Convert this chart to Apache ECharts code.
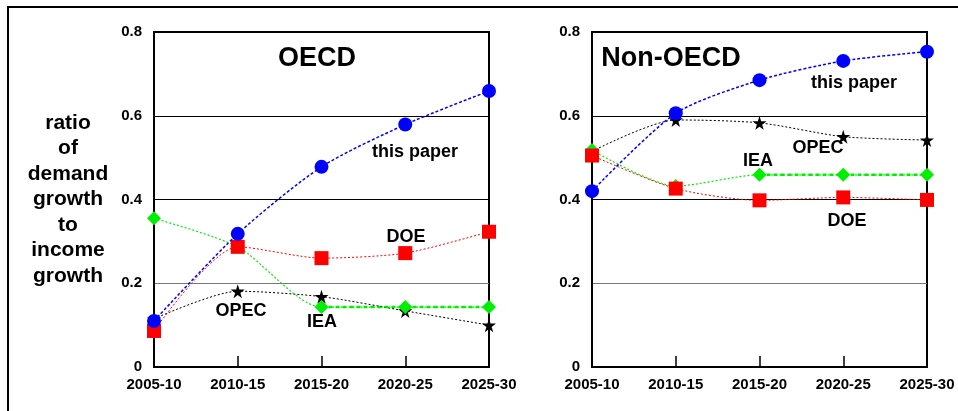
<!DOCTYPE html>
<html>
<head>
<meta charset="utf-8">
<script src="https://cdn.jsdelivr.net/npm/echarts@6/dist/echarts.min.js"></script>
<style>
  html, body { margin: 0; padding: 0; background: #fff; }
  #chart { width: 958px; height: 411px; }
</style>
</head>
<body>
<div id="chart"></div>
<script>
// Periods on the horizontal axis
const periods = ['2005-10', '2010-15', '2015-20', '2020-25', '2025-30'];
const yTicks = [0, 0.2, 0.4, 0.6, 0.8];

// OECD: ratio of demand growth to income growth
const oecdThisPaper = [0.11, 0.318, 0.478, 0.579, 0.659];
const oecdDOE       = [0.086, 0.287, 0.26, 0.272, 0.323];
const oecdIEA       = [0.355, 0.287, 0.143, 0.143, 0.143];
const oecdOPEC      = [0.115, 0.181, 0.168, 0.134, 0.1];

// Non-OECD
const nonThisPaper = [0.42, 0.606, 0.685, 0.731, 0.753];
const nonDOE       = [0.505, 0.426, 0.398, 0.405, 0.399];
const nonIEA       = [0.518, 0.432, 0.459, 0.459, 0.459];
const nonOPEC      = [0.515, 0.59, 0.583, 0.55, 0.542];

const FONT = 'Liberation Sans, Arial, sans-serif';
const STAR = 'path://M50,0 L61,35 L98,35 L68,57 L79,91 L50,70 L21,91 L32,57 L2,35 L39,35 Z';
const chart = echarts.init(document.getElementById('chart'));

function xAxis(idx) {
  return {
    gridIndex: idx, type: 'category', data: periods, boundaryGap: false,
    axisLine: { lineStyle: { color: '#000', width: 2 } },
    axisTick: { show: true, inside: true, length: 11, lineStyle: { color: '#000', width: 1.5 } },
    axisLabel: { color: '#000', fontFamily: FONT, fontWeight: 'bold', fontSize: 15, margin: 10 },
    splitLine: { show: false }
  };
}
function yAxis(idx) {
  return {
    gridIndex: idx, type: 'value', min: yTicks[0], max: yTicks[yTicks.length - 1], interval: 0.2,
    axisLine: { show: true, lineStyle: { color: '#000', width: 2 } },
    axisTick: { show: false },
    axisLabel: { color: '#000', fontFamily: FONT, fontWeight: 'bold', fontSize: 15, margin: 12,
      formatter: v => (v === 0 ? '0' : v.toFixed(1)) },
    splitLine: { show: true, lineStyle: { color: ['#000', '#777', '#000', '#000', '#000'], width: 1 } }
  };
}
function line(idx, data, color, symbol, size, width, type, z) {
  return {
    type: 'line', xAxisIndex: idx, yAxisIndex: idx, data: data,
    smooth: 0.25, symbol: symbol, symbolSize: size,
    itemStyle: { color: color },
    lineStyle: { color: color, width: width, type: type },
    z: z
  };
}
// thicker dashed overlay for the flat IEA stretch
function flat(idx, data, color) {
  const d = data.map((v, i) => (i >= 2 ? v : null));
  return {
    type: 'line', xAxisIndex: idx, yAxisIndex: idx, data: d, symbol: 'none',
    lineStyle: { color: color, width: 2.5, type: [4, 3] }, z: 3
  };
}

function panelSeries(idx, tp, doe, iea, opec) {
  return [
    line(idx, opec, '#000', STAR, 14, 1, [2, 2], 4),
    line(idx, iea, '#00ee00', 'diamond', 14, 1.2, [2, 2], 5),
    flat(idx, iea, '#00ee00'),
    line(idx, doe, '#ff0000', 'rect', 14, 1, [2, 2], 6),
    line(idx, tp, '#0000ff', 'circle', 14, 1.5, [3, 2], 7)
  ];
}

// centred bold text placed at (x, y)
function txt(x, y, s, size) {
  return { type: 'text', x: x, y: y, z: 100,
    style: { text: s, fill: '#000', font: 'bold ' + size + 'px ' + FONT,
      textAlign: 'center', textVerticalAlign: 'middle' } };
}

chart.setOption({
  animation: false,
  backgroundColor: '#fff',
  grid: [
    { left: 154, top: 32, width: 335, height: 335, show: true, borderColor: '#000', borderWidth: 2, backgroundColor: 'transparent' },
    { left: 592, top: 32, width: 335, height: 335, show: true, borderColor: '#000', borderWidth: 2, backgroundColor: 'transparent' }
  ],
  xAxis: [xAxis(0), xAxis(1)],
  yAxis: [yAxis(0), yAxis(1)],
  series: [].concat(
    panelSeries(0, oecdThisPaper, oecdDOE, oecdIEA, oecdOPEC),
    panelSeries(1, nonThisPaper, nonDOE, nonIEA, nonOPEC)
  ),
  graphic: [
    { type: 'rect', x: 8, y: 7, z: 0, silent: true,
      shape: { x: 0, y: 0, width: 1000, height: 500 }, style: { fill: 'none', stroke: '#000', lineWidth: 2 } },
    { type: 'text', x: 68, y: 199.5, z: 100,
      style: { text: 'ratio\nof\ndemand\ngrowth\nto\nincome\ngrowth', fill: '#000',
        font: 'bold 21px ' + FONT, textAlign: 'center', textVerticalAlign: 'middle', lineHeight: 25.5 } },
    txt(317, 59, 'OECD', 27),
    txt(671, 59, 'Non-OECD', 27),
    txt(415, 152, 'this paper', 18),
    txt(406, 237, 'DOE', 18),
    txt(241, 311, 'OPEC', 18),
    txt(322, 322, 'IEA', 18),
    txt(854, 83, 'this paper', 18),
    txt(818, 148, 'OPEC', 18),
    txt(758, 161, 'IEA', 18),
    txt(847, 221, 'DOE', 18)
  ]
});
</script>
</body>
</html>
